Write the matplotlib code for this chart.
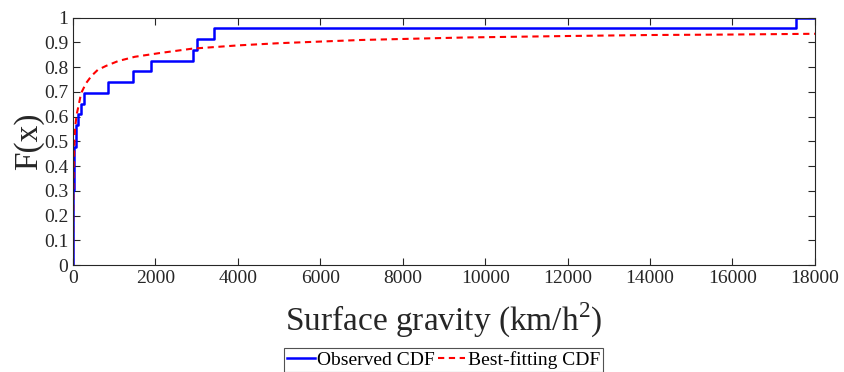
import matplotlib
matplotlib.use("Agg")
import matplotlib.pyplot as plt

plt.rcParams["font.family"] = ["Liberation Serif", "DejaVu Serif"]
plt.rcParams["mathtext.fontset"] = "custom"
plt.rcParams["mathtext.rm"] = "Liberation Serif"

observed = [0, 0, 1, 2, 3, 5, 8, 12, 16, 22, 30,
            75, 78, 131, 197, 262, 845, 1466, 1886, 2905, 3002, 3422, 17548]

# best-fitting CDF, points
fit_x = [0, 5, 20, 40, 53, 90, 130, 195, 316, 450, 600, 800, 1100, 1500,
         2100, 2900, 4000, 5000, 7000, 9500, 12000, 14000, 16000, 18000]
fit_f = [0, 0.25, 0.42, 0.52, 0.56, 0.61, 0.64, 0.694, 0.735, 0.765, 0.789,
         0.805, 0.825, 0.842, 0.857, 0.875, 0.888, 0.897, 0.910, 0.920,
         0.926, 0.930, 0.932, 0.935]

n = len(observed)
step_x = [0] + sorted(observed) + [18000]
step_y = [0] + [(i + 1) / n for i in range(n)] + [1.0]

fig = plt.figure(figsize=(8.44, 3.72), dpi=100)
ax = fig.add_axes([0.0865, 0.2876, 0.879, 0.6648])

ax.step(step_x, step_y, where="post", color="blue", lw=1.8, label="Observed CDF")
ax.plot(fit_x, fit_f, color="red", lw=1.5, dashes=(3, 2.2), label="Best-fitting CDF")

ax.set_xlim(0, 18000)
ax.set_ylim(0, 1)
ax.set_xticks(range(0, 18001, 2000))
ax.set_yticks([i / 10 for i in range(11)])
ax.set_yticklabels(["0"] + ["0.%d" % i for i in range(1, 10)] + ["1"])
ax.tick_params(direction="in", top=True, right=True, labelsize=14,
               length=5, color="0.15", labelcolor="0.15")
for s in ax.spines.values():
    s.set_color("0.15")
    s.set_linewidth(0.8)

ax.set_xlabel(r"Surface gravity (km/h$^2$)", fontsize=24, color="0.15", labelpad=10)
ax.set_ylabel("F(x)", fontsize=24, color="0.15", labelpad=0)

leg = ax.legend(loc="upper center", bbox_to_anchor=(0.5, -0.335), ncol=2,
                fontsize=14, frameon=True, fancybox=False, edgecolor="0.15",
                handlelength=1.4, handletextpad=0.15, columnspacing=0.15,
                borderpad=0.15, borderaxespad=0)
leg.get_frame().set_linewidth(0.8)

fig.savefig("out.png", dpi=100)
